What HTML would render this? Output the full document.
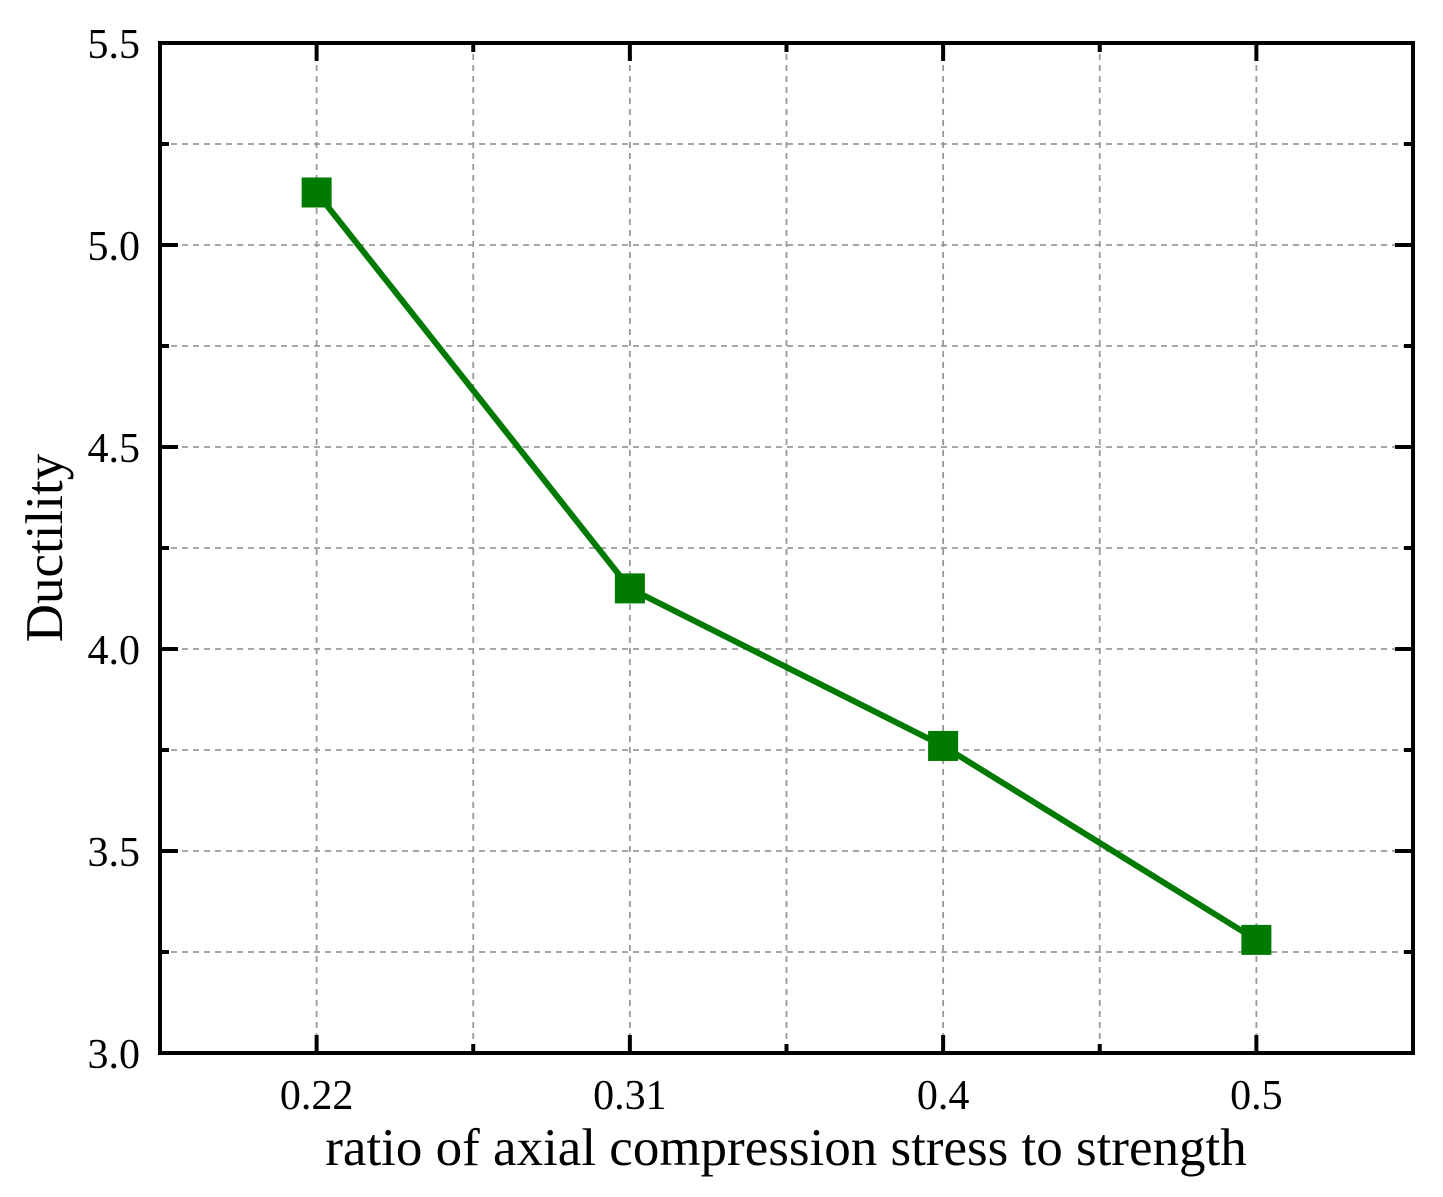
<!DOCTYPE html>
<html><head><meta charset="utf-8"><style>
body{margin:0;background:#fff}
svg{display:block;font-family:"Liberation Serif",serif}
</style></head><body>
<svg id="chart" width="1443" height="1197">
<g id="grid"></g>
<g id="axes"></g>
<g id="series"></g>
<text x="786" y="1165" font-size="53" text-anchor="middle">ratio of axial compression stress to strength</text>
<text transform="translate(62,548) rotate(-90)" font-size="53" text-anchor="middle">Ductility</text>
</svg>
<script>
const categories = ["0.22","0.31","0.4","0.5"];
const ductility = [5.13, 4.15, 3.76, 3.28];
const yTicks = [3.0, 3.5, 4.0, 4.5, 5.0, 5.5];
const yTickLabels = ["3.0","3.5","4.0","4.5","5.0","5.5"];
const yMinorTicks = [3.25, 3.75, 4.25, 4.75, 5.25];

const L=160,R=1413,T=43,B=1053,yMin=3,yMax=5.5;
const step=(R-L)/categories.length;
const xPos=i=>L+step*(i+0.5);
const yPos=v=>B-(v-yMin)/(yMax-yMin)*(B-T);
const NS="http://www.w3.org/2000/svg";
function mk(tag,attrs,parent){const e=document.createElementNS(NS,tag);for(const k in attrs)e.setAttribute(k,attrs[k]);parent.appendChild(e);return e;}
const grid=document.getElementById('grid'),axes=document.getElementById('axes'),series=document.getElementById('series');
const gs={stroke:"#999","stroke-width":1.8,"stroke-dasharray":"6 5"};
for(let i=0;i<categories.length;i++){
  let g=mk('line',Object.assign({x1:xPos(i),x2:xPos(i),y1:T,y2:B},gs),grid);
  
  
  if(i<categories.length-1){
    let m=mk('line',Object.assign({x1:xPos(i)+step/2,x2:xPos(i)+step/2,y1:T,y2:B},gs),grid);
    
    
  }
}
yTicks.concat(yMinorTicks).forEach(v=>{
  let g=mk('line',Object.assign({x1:L,x2:R,y1:yPos(v),y2:yPos(v)},gs),grid);
  
  
});
let fr=mk('rect',{x:L,y:T,width:R-L,height:B-T,fill:"none",stroke:"#000","stroke-width":4},axes);


const ts={stroke:"#000","stroke-width":4};
categories.forEach((c,i)=>{
  const x=xPos(i);
  mk('line',Object.assign({x1:x,x2:x,y1:B,y2:B-18},ts),axes);
  mk('line',Object.assign({x1:x,x2:x,y1:T,y2:T+18},ts),axes);
  if(i<categories.length-1){
    const xm=x+step/2;
    mk('line',Object.assign({x1:xm,x2:xm,y1:B,y2:B-9},ts),axes);
    mk('line',Object.assign({x1:xm,x2:xm,y1:T,y2:T+9},ts),axes);
  }
  let t=mk('text',{x:x,y:B+56,"font-size":42,"text-anchor":"middle"},axes);
  t.textContent=c;
  
  
});
yTicks.forEach((v,i)=>{
  const y=yPos(v);
  mk('line',Object.assign({x1:L,x2:L+18,y1:y,y2:y},ts),axes);
  mk('line',Object.assign({x1:R,x2:R-18,y1:y,y2:y},ts),axes);
  let t=mk('text',{x:L-20,y:y+15,"font-size":42,"text-anchor":"end"},axes);
  t.textContent=yTickLabels[i];
  
  
});
yMinorTicks.forEach(v=>{
  const y=yPos(v);
  mk('line',Object.assign({x1:L,x2:L+9,y1:y,y2:y},ts),axes);
  mk('line',Object.assign({x1:R,x2:R-9,y1:y,y2:y},ts),axes);
});
let pl=mk('polyline',{points:ductility.map((v,i)=>xPos(i)+","+yPos(v)).join(" "),fill:"none",stroke:"#007a00","stroke-width":6},series);


ductility.forEach((v,i)=>{
  let r=mk('rect',{x:xPos(i)-15,y:yPos(v)-15,width:30,height:30,fill:"#007a00"},series);
  
  
});
</script>
</body></html>
